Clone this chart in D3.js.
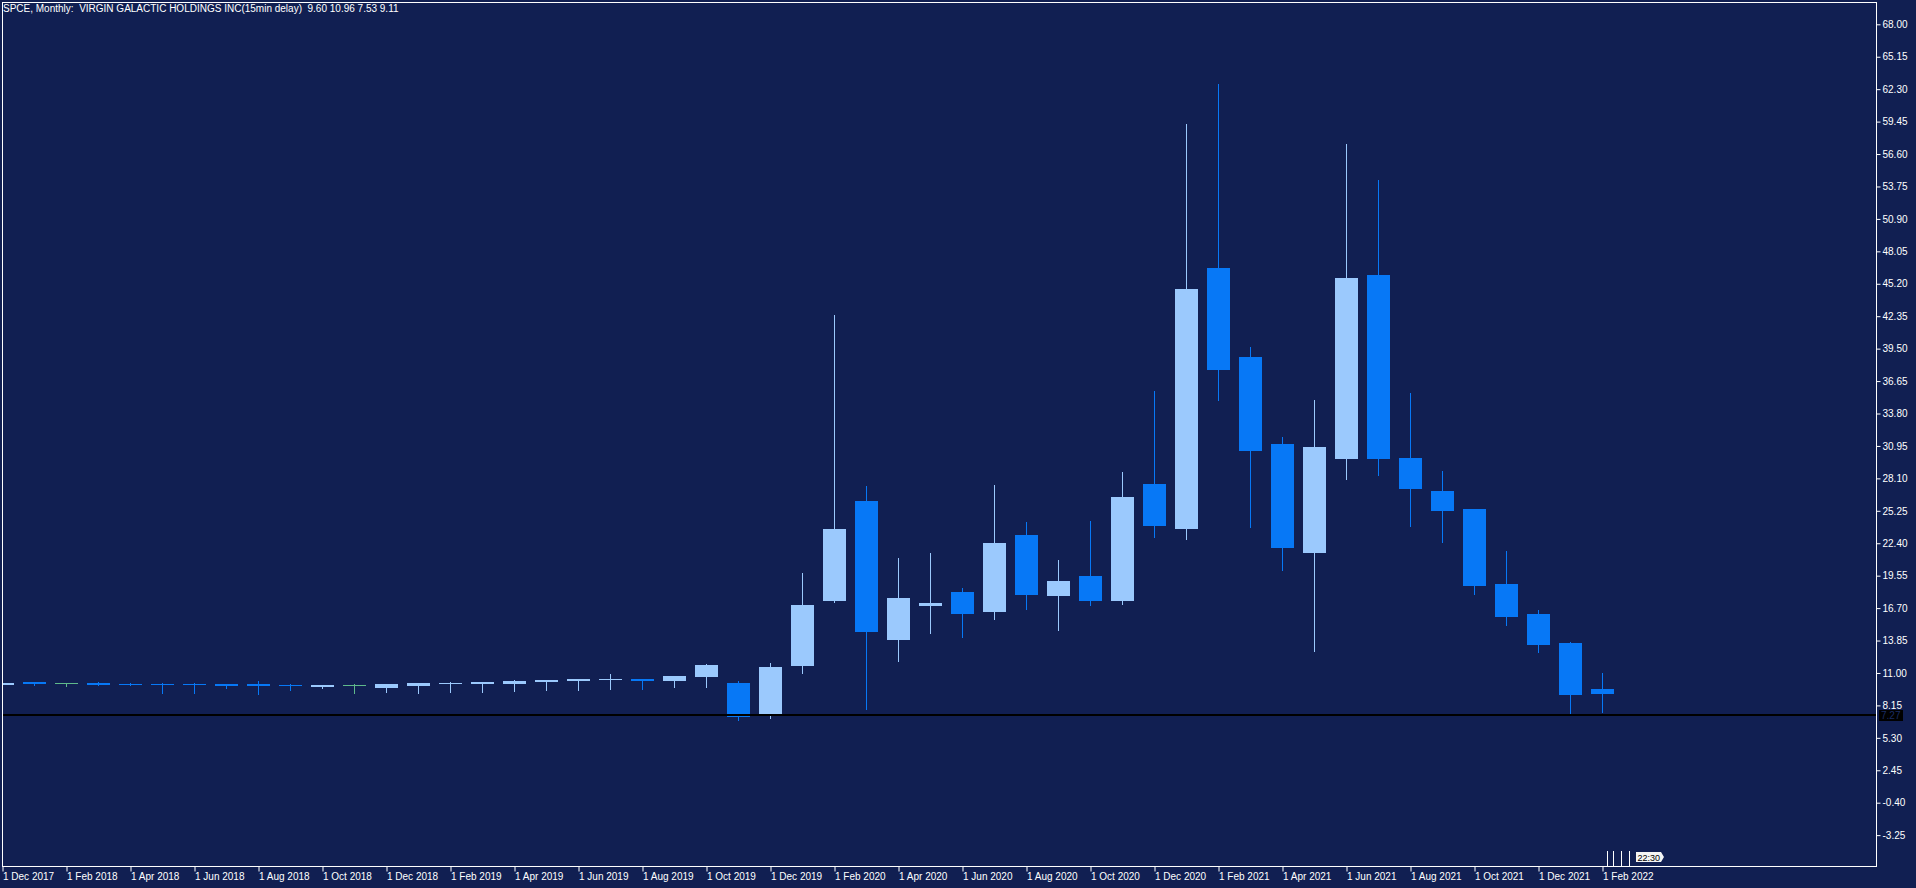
<!DOCTYPE html>
<html lang="en">
<head>
  <meta charset="UTF-8" />
  <title>SPCE, Monthly</title>
  <script src="https://d3js.org/d3.v7.min.js"></script>
  <style>
    body {
      margin: 0;
      background: #111f52;
      overflow: hidden;
    }
    svg { display: block; }
    text {
      font-family: "Liberation Sans", Arial, sans-serif;
      font-size: 10px;
      fill: #fff;
    }
  </style>
</head>
<body>

<svg id="chart" width="1916" height="888"></svg>

<script>
// monthly bars, Dec 2017 .. Feb 2022
const months = [
  "Dec 2017", "Jan 2018", "Feb 2018", "Mar 2018", "Apr 2018", "May 2018", "Jun 2018", "Jul 2018",
  "Aug 2018", "Sep 2018", "Oct 2018", "Nov 2018", "Dec 2018", "Jan 2019", "Feb 2019", "Mar 2019",
  "Apr 2019", "May 2019", "Jun 2019", "Jul 2019", "Aug 2019", "Sep 2019", "Oct 2019", "Nov 2019",
  "Dec 2019", "Jan 2020", "Feb 2020", "Mar 2020", "Apr 2020", "May 2020", "Jun 2020", "Jul 2020",
  "Aug 2020", "Sep 2020", "Oct 2020", "Nov 2020", "Dec 2020", "Jan 2021", "Feb 2021", "Mar 2021",
  "Apr 2021", "May 2021", "Jun 2021", "Jul 2021", "Aug 2021", "Sep 2021", "Oct 2021", "Nov 2021",
  "Dec 2021", "Jan 2022", "Feb 2022"
];

const openP = [
  9.96, 10.21, 10.09, 10.12, 10.03, 10.03, 10.03, 10.03, 10.03, 9.94, 9.76, 9.91, 9.68,
  9.85, 10.03, 10.03, 10.03, 10.21, 10.29, 10.38, 10.47, 10.29, 10.67, 10.12, 7.39, 11.64,
  17.35, 26.11, 13.92, 16.91, 18.11, 16.38, 23.15, 17.78, 19.52, 17.34, 27.62, 23.67, 46.59,
  38.76, 31.14, 21.56, 29.79, 45.97, 29.90, 26.97, 25.39, 18.80, 16.17, 13.62, 9.60
];
const highP = [
  10.12, 10.23, 10.11, 10.21, 10.12, 10.12, 10.12, 10.05, 10.29, 10.03, 9.96, 10.03, 10.05,
  10.14, 10.21, 10.23, 10.38, 10.40, 10.49, 10.91, 10.49, 10.75, 11.79, 10.29, 11.87, 19.78,
  42.46, 27.43, 21.10, 21.54, 18.47, 27.52, 24.26, 20.93, 24.36, 28.66, 35.79, 59.24, 62.75,
  39.64, 31.73, 34.98, 57.47, 54.31, 35.61, 28.76, 25.45, 21.73, 16.51, 13.72, 10.96
];
const lowP = [
  9.94, 9.94, 9.85, 9.92, 9.92, 9.21, 9.21, 9.68, 9.12, 9.50, 9.68, 9.21, 9.32,
  9.21, 9.32, 9.32, 9.41, 9.50, 9.50, 9.59, 9.59, 9.76, 9.79, 6.87, 7.07, 11.02,
  17.26, 7.86, 12.08, 14.54, 14.19, 15.77, 16.64, 14.78, 16.97, 17.08, 22.96, 22.77, 34.98,
  23.84, 20.04, 12.97, 28.04, 28.39, 23.91, 22.50, 17.92, 15.20, 12.84, 7.46, 7.53
];
const closeP = [
  10.10, 10.03, 10.09, 9.94, 9.94, 9.94, 9.94, 9.85, 9.85, 9.85, 9.94, 9.91, 10.03,
  10.12, 10.12, 10.21, 10.29, 10.38, 10.47, 10.47, 10.29, 10.73, 11.70, 7.16, 11.52, 16.97,
  23.65, 14.63, 17.59, 17.15, 16.21, 22.42, 17.86, 19.08, 17.34, 26.47, 23.92, 44.74, 37.64,
  30.50, 22.00, 30.87, 45.70, 29.79, 27.17, 25.22, 18.63, 15.91, 13.45, 9.05, 9.11
];

const yTicks = [
  68.00, 65.15, 62.30, 59.45, 56.60, 53.75, 50.90, 48.05, 45.20, 42.35, 39.50, 36.65, 33.80,
  30.95, 28.10, 25.25, 22.40, 19.55, 16.70, 13.85, 11.00, 8.15, 5.30, 2.45, -0.40, -3.25
];
const xTicks = [
  "Dec 2017", "Feb 2018", "Apr 2018", "Jun 2018", "Aug 2018", "Oct 2018", "Dec 2018",
  "Feb 2019", "Apr 2019", "Jun 2019", "Aug 2019", "Oct 2019", "Dec 2019", "Feb 2020",
  "Apr 2020", "Jun 2020", "Aug 2020", "Oct 2020", "Dec 2020", "Feb 2021", "Apr 2021",
  "Jun 2021", "Aug 2021", "Oct 2021", "Dec 2021", "Feb 2022"
];
const askPrice = 7.27;
const symbol = "SPCE, Monthly:  VIRGIN GALACTIC HOLDINGS INC(15min delay)";

const upColor = "#9bc9fd";
const downColor = "#0778f6";
const dojiColor = "#5fb98b";

const svg = d3.select("#chart");
const plotLeft = 2, plotRight = 1876, plotTop = 2, plotBottom = 867;
const barStep = 32;

const x = d3.scalePoint()
  .domain(months)
  .range([plotLeft, plotLeft + barStep * (months.length - 1)]);

const y = d3.scaleLinear()
  .domain([-6.05, 69.96])
  .range([plotBottom, plotTop]);

const bars = months.map((m, i) => ({
  m: m, o: openP[i], h: highP[i], l: lowP[i], c: closeP[i]
}));

svg.append("clipPath")
    .attr("id", "plot-clip")
  .append("rect")
    .attr("x", plotLeft)
    .attr("y", plotTop)
    .attr("width", plotRight - plotLeft)
    .attr("height", plotBottom - plotTop);

const plot = svg.append("g").attr("clip-path", "url(#plot-clip)");

const colorOf = d => d.c > d.o ? upColor : d.c < d.o ? downColor : dojiColor;

// wicks
plot.append("g")
  .selectAll("line")
  .data(bars)
  .enter().append("line")
    .attr("x1", d => x(d.m) + 0.5)
    .attr("x2", d => x(d.m) + 0.5)
    .attr("y1", d => Math.round(y(d.h)))
    .attr("y2", d => Math.round(y(d.l)) + 1)
    .attr("stroke", colorOf)
    .attr("stroke-width", 1);

// bodies
plot.append("g")
  .selectAll("rect")
  .data(bars)
  .enter().append("rect")
    .attr("x", d => x(d.m) - 11)
    .attr("width", 23)
    .attr("y", d => Math.round(y(Math.max(d.o, d.c))))
    .attr("height", d => Math.max(1, Math.round(y(Math.min(d.o, d.c))) - Math.round(y(Math.max(d.o, d.c)))))
    .attr("fill", colorOf);

// ask line
plot.append("line")
  .attr("x1", plotLeft)
  .attr("x2", plotRight)
  .attr("y1", Math.round(y(askPrice)))
  .attr("y2", Math.round(y(askPrice)))
  .attr("stroke", "#000")
  .attr("stroke-width", 2);

// frame
svg.append("rect")
  .attr("x", plotLeft + 0.5)
  .attr("y", plotTop + 0.5)
  .attr("width", plotRight - plotLeft)
  .attr("height", plotBottom - plotTop - 1)
  .attr("fill", "none")
  .attr("stroke", "#fff")
  .attr("stroke-width", 1);

// price axis
const yAxis = svg.append("g")
  .attr("transform", `translate(${plotRight + 0.5},0)`)
  .call(d3.axisRight(y)
    .tickValues(yTicks)
    .tickFormat(d => d.toFixed(2))
    .tickSize(4)
    .tickPadding(2));
yAxis.select(".domain").remove();
yAxis.selectAll("line").attr("stroke", "#fff");
yAxis.selectAll("text")
  .attr("fill", "#fff")
  .style("font-family", "Liberation Sans, Arial, sans-serif")
  .style("font-size", "10px");

// ask price label
const askY = Math.round(y(askPrice));
svg.append("rect")
  .attr("x", plotRight + 3)
  .attr("y", askY - 5)
  .attr("width", 24)
  .attr("height", 11)
  .attr("fill", "#000");
svg.append("text")
  .attr("x", plotRight + 5)
  .attr("y", askY + 4)
  .style("fill", "#1b2c63")
  .text(askPrice.toFixed(2));

// time axis
const xAxis = svg.append("g")
  .attr("transform", `translate(0.5,${plotBottom - 0.5})`)
  .call(d3.axisBottom(x)
    .tickValues(xTicks)
    .tickFormat(m => "1 " + m)
    .tickSize(5));
xAxis.select(".domain").remove();
xAxis.selectAll("line").attr("stroke", "#fff");
xAxis.selectAll("text")
  .attr("fill", "#fff")
  .attr("text-anchor", "start")
  .attr("x", 0)
  .attr("y", 13)
  .attr("dy", 0)
  .style("font-family", "Liberation Sans, Arial, sans-serif")
  .style("font-size", "10px");

// bar timer marks near the last bar
const lastX = x(months[months.length - 1]);
svg.append("g")
  .selectAll("line")
  .data([5, 11, 19, 27])
  .enter().append("line")
    .attr("x1", d => lastX + d + 0.5)
    .attr("x2", d => lastX + d + 0.5)
    .attr("y1", 851)
    .attr("y2", plotBottom - 1)
    .attr("stroke", "#fff");

const bx = lastX + 34, by = 852;
svg.append("path")
  .attr("d", `M${bx},${by} h25 l3,5 l-3,5 h-25 z`)
  .attr("fill", "#f4f4f4");
svg.append("text")
  .attr("x", bx + 1.5)
  .attr("y", by + 8.5)
  .style("fill", "#000")
  .style("font-size", "9px")
  .text("22:30");

// header
const last = bars[bars.length - 1];
svg.append("text")
  .attr("x", 3)
  .attr("y", 12)
  .style("white-space", "pre")
  .text(`${symbol}  ${last.o.toFixed(2)} ${last.h.toFixed(2)} ${last.l.toFixed(2)} ${last.c.toFixed(2)}`);
</script>

</body>
</html>
